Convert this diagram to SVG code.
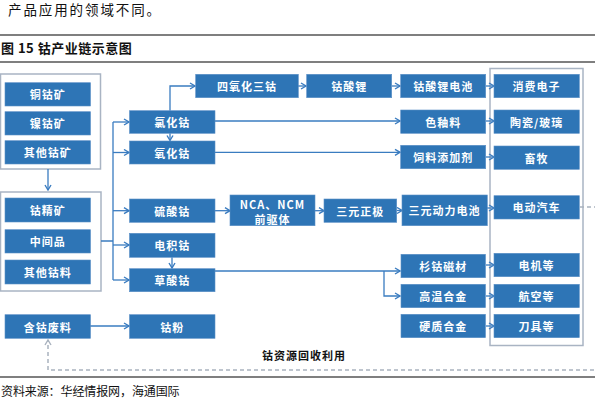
<svg xmlns="http://www.w3.org/2000/svg" width="595" height="404" viewBox="0 0 595 404">
<defs>
<style>
.n{fill:#2E75B6;stroke:#5B8FC7;stroke-width:0.6}
.o{fill:#fff;stroke:#A9B4C3;stroke-width:1.5}
.t{font-family:"Noto Sans CJK SC","Noto Sans",sans-serif;font-size:11px;fill:#fff;text-anchor:middle;dominant-baseline:central;letter-spacing:1px;font-weight:bold}
.c{fill:none;stroke:#3A7CC0;stroke-width:1.3}
.d{fill:none;stroke:#A9B2BE;stroke-width:1.5;stroke-dasharray:4,3}
.h{font-family:"Noto Sans CJK SC","Noto Sans",sans-serif;fill:#111}
.r{stroke:#555;stroke-width:1.5}
</style>
<marker id="a" viewBox="0 0 8 8" refX="7" refY="4" markerWidth="8" markerHeight="8" markerUnits="userSpaceOnUse" orient="auto">
<polyline points="2,1 7,4 2,7" fill="none" stroke="#3A7CC0" stroke-width="1.4"/>
</marker>
<marker id="g" viewBox="0 0 8 8" refX="7" refY="4" markerWidth="8" markerHeight="8" markerUnits="userSpaceOnUse" orient="auto">
<polyline points="2,1 7,4 2,7" fill="none" stroke="#A9B2BE" stroke-width="1.4"/>
</marker>
</defs>
<rect width="595" height="404" fill="#fff"/>
<text class="h" x="8" y="15" font-size="13.5" letter-spacing="1.9">产品应用的领域不同。</text>
<line class="r" x1="0" y1="35" x2="595" y2="35"/>
<text class="h" x="1" y="53" font-size="13" font-weight="bold" letter-spacing="0.5">图 15 钴产业链示意图</text>
<line class="r" x1="0" y1="62" x2="595" y2="62"/>

<g id="group-ore"><rect class="o" x="0.5" y="74" width="100" height="95"/></g>
<g id="group-material"><rect class="o" x="0.5" y="192" width="100.5" height="99"/></g>
<g id="group-apps"><rect class="o" x="490" y="68.5" width="93" height="277"/></g>

<g id="connectors">
<path class="c" d="M48,169 V190" marker-end="url(#a)"/>
<path class="c" d="M101,241 H113 M113,122 V280"/>
<path class="c" d="M113,122 H129" marker-end="url(#a)"/>
<path class="c" d="M113,152.5 H129" marker-end="url(#a)"/>
<path class="c" d="M113,210.7 H129" marker-end="url(#a)"/>
<path class="c" d="M113,245 H129" marker-end="url(#a)"/>
<path class="c" d="M113,280 H129" marker-end="url(#a)"/>
<path class="c" d="M172,257.3 V268" marker-end="url(#a)"/>
<path class="c" d="M170,110.7 V86 H195" marker-end="url(#a)"/>
<path class="c" d="M170,133.3 V140.5" marker-end="url(#a)"/>
<path class="c" d="M298,86 H306" marker-end="url(#a)"/>
<path class="c" d="M392,86 H400" marker-end="url(#a)"/>
<path class="c" d="M486,86 H494" marker-end="url(#a)"/>
<path class="c" d="M215,121 H400" marker-end="url(#a)"/>
<path class="c" d="M486,121 H494" marker-end="url(#a)"/>
<path class="c" d="M215,152.3 H400" marker-end="url(#a)"/>
<path class="c" d="M486,157 H494" marker-end="url(#a)"/>
<path class="c" d="M215,210.7 H230" marker-end="url(#a)"/>
<path class="c" d="M315,210.7 H324" marker-end="url(#a)"/>
<path class="c" d="M397,210.5 H402" marker-end="url(#a)"/>
<path class="c" d="M487,208 H494" marker-end="url(#a)"/>
<path class="c" d="M215,271 H400" marker-end="url(#a)"/>
<path class="c" d="M384,271 V296 H400" marker-end="url(#a)"/>
<path class="c" d="M486,265 H494" marker-end="url(#a)"/>
<path class="c" d="M486,296 H494" marker-end="url(#a)"/>
<path class="c" d="M486,326 H494" marker-end="url(#a)"/>
<path class="c" d="M90,326 H129" marker-end="url(#a)"/>
<path class="d" d="M580,207 H600 V370 H48 V340" marker-end="url(#g)"/>
</g>

<g id="n-tonggukuang"><rect class="n" x="5" y="82.7" width="85.5" height="23.3"/><text class="t" x="47.7" y="94.3">铜钴矿</text></g>
<g id="n-niegukuang"><rect class="n" x="5" y="111.7" width="85.5" height="23.3"/><text class="t" x="47.7" y="123.3">镍钴矿</text></g>
<g id="n-qitagukuang"><rect class="n" x="5" y="140.7" width="85.5" height="23.3"/><text class="t" x="47.7" y="152.3">其他钴矿</text></g>
<g id="n-gujingkuang"><rect class="n" x="5" y="198" width="85.5" height="24"/><text class="t" x="47.7" y="210">钴精矿</text></g>
<g id="n-zhongjianpin"><rect class="n" x="5" y="229.7" width="85.5" height="23.3"/><text class="t" x="47.7" y="241.3">中间品</text></g>
<g id="n-qitaguliao"><rect class="n" x="5" y="260" width="85.5" height="24"/><text class="t" x="47.7" y="272">其他钴料</text></g>
<g id="n-hanguifeiliao"><rect class="n" x="5" y="314.7" width="85.5" height="23.6"/><text class="t" x="47.7" y="326.5">含钴废料</text></g>

<g id="n-lvhuagu"><rect class="n" x="129.5" y="110.7" width="85.5" height="22.6"/><text class="t" x="172.2" y="122">氯化钴</text></g>
<g id="n-yanghuagu"><rect class="n" x="129.5" y="141" width="85.5" height="23"/><text class="t" x="172.2" y="152.5">氧化钴</text></g>
<g id="n-liusuangu"><rect class="n" x="129.5" y="199" width="85.5" height="23.3"/><text class="t" x="172.2" y="210.7">硫酸钴</text></g>
<g id="n-dianjigu"><rect class="n" x="129.5" y="233.3" width="85.5" height="24"/><text class="t" x="172.2" y="245.3">电积钴</text></g>
<g id="n-caosuangu"><rect class="n" x="129.5" y="268.7" width="85.5" height="23"/><text class="t" x="172.2" y="280.2">草酸钴</text></g>
<g id="n-gufen"><rect class="n" x="129.5" y="314.7" width="85.5" height="23.6"/><text class="t" x="172.2" y="326.5">钴粉</text></g>

<g id="n-sisanyanghuagu"><rect class="n" x="195.7" y="74.3" width="102.6" height="23.4"/><text class="t" x="247" y="86">四氧化三钴</text></g>
<g id="n-gusuanli"><rect class="n" x="306.7" y="74.3" width="85" height="23.4"/><text class="t" x="349.2" y="86">钴酸锂</text></g>
<g id="n-qianquti"><rect class="n" x="230" y="195" width="85" height="30.7"/><text class="t" x="272.5" y="204" font-family="Liberation Sans,sans-serif" font-size="12" letter-spacing="0.3">NCA、NCM</text><text class="t" x="272.5" y="218.5">前驱体</text></g>
<g id="n-sanyuanzhengji"><rect class="n" x="324" y="199" width="72.7" height="23.3"/><text class="t" x="360.3" y="210.7">三元正极</text></g>

<g id="n-gusuanlidianchi"><rect class="n" x="400.7" y="74.3" width="85" height="23.4"/><text class="t" x="443.2" y="86">钴酸锂电池</text></g>
<g id="n-seyouliao"><rect class="n" x="400.7" y="110" width="85" height="23.3"/><text class="t" x="443.2" y="121.7">色釉料</text></g>
<g id="n-siliao"><rect class="n" x="400.7" y="145.3" width="85" height="23.4"/><text class="t" x="443.2" y="157">饲料添加剂</text></g>
<g id="n-sanyuandianchi"><rect class="n" x="402" y="195" width="85.3" height="30.7"/><text class="t" x="444.6" y="210.3">三元动力电池</text></g>
<g id="n-shangucicai"><rect class="n" x="401" y="254.3" width="84.5" height="23.4"/><text class="t" x="443.2" y="266">杉钴磁材</text></g>
<g id="n-gaowenhejin"><rect class="n" x="401" y="284.3" width="84.5" height="23.4"/><text class="t" x="443.2" y="296">高温合金</text></g>
<g id="n-yingzhihejin"><rect class="n" x="401" y="314.3" width="84.5" height="23.4"/><text class="t" x="443.2" y="326">硬质合金</text></g>

<g id="n-xiaofeidianzi"><rect class="n" x="494" y="74.3" width="85.3" height="23.4"/><text class="t" x="536.6" y="86">消费电子</text></g>
<g id="n-taoci"><rect class="n" x="494" y="110" width="85.3" height="23.3"/><text class="t" x="536.6" y="121.7">陶瓷/玻璃</text></g>
<g id="n-xumu"><rect class="n" x="494" y="146" width="85.3" height="23.3"/><text class="t" x="536.6" y="157.6">畜牧</text></g>
<g id="n-diandongqiche"><rect class="n" x="494" y="195.7" width="85.3" height="23.3"/><text class="t" x="536.6" y="207.3">电动汽车</text></g>
<g id="n-dianji"><rect class="n" x="494" y="253.3" width="85.3" height="23.4"/><text class="t" x="536.6" y="265">电机等</text></g>
<g id="n-hangkong"><rect class="n" x="494" y="284.3" width="85.3" height="23.4"/><text class="t" x="536.6" y="296">航空等</text></g>
<g id="n-daoju"><rect class="n" x="494" y="314.3" width="85.3" height="23.4"/><text class="t" x="536.6" y="326">刀具等</text></g>

<text class="h" x="262" y="360" font-size="11" font-weight="bold" letter-spacing="1">钴资源回收利用</text>
<line class="r" x1="0" y1="377" x2="595" y2="377"/>
<text class="h" x="1" y="396" font-size="12" letter-spacing="-0.1">资料来源：华经情报网，海通国际</text>
</svg>
